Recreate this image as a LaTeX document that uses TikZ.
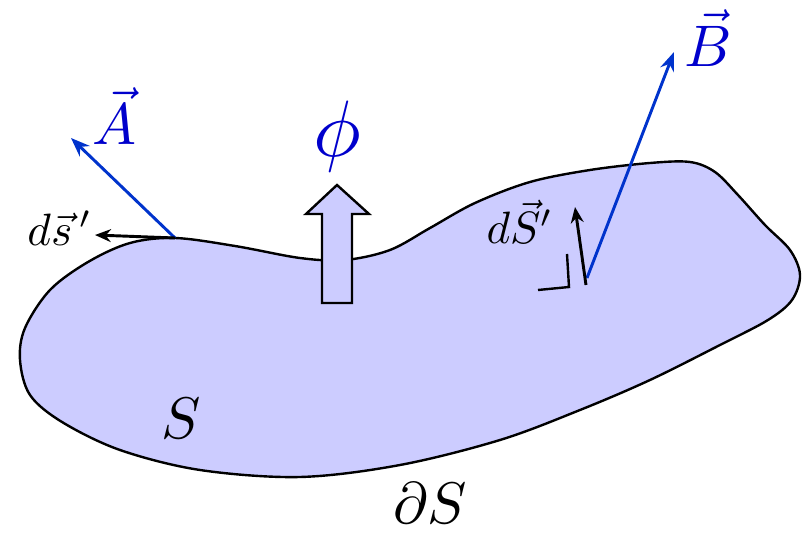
\documentclass[tikz,border=0pt]{standalone}
\usetikzlibrary{arrows.meta, positioning}
\definecolor{surffill}{RGB}{204, 204, 255}
\definecolor{vecblue}{RGB}{0, 51, 204}
\definecolor{labblue}{RGB}{0, 0, 204}

\begin{document}
\begin{tikzpicture}[x=0.75pt, y=-0.75pt,
        vec/.style={-{Stealth[length=5mm, width=3.8mm]}, line width=2.2pt, vecblue},
        elem/.style={-{Stealth[length=4.2mm, width=3.4mm]}, line width=2.2pt, black},
        lab/.style={scale=4.4, text=labblue, inner sep=0pt},
        sml/.style={scale=3.4, inner sep=0pt},
        big/.style={scale=4.4, inner sep=0pt}
      ]
        \useasboundingbox (0,0) rectangle (808,534);
        % Flaeche S
        \draw[line width=1.8pt, fill=surffill] plot[smooth cycle, tension=0.55] coordinates {
            (175,238) (235,246) (300,258) (345,260) (390,250) (430,228) (475,203)
            (530,182) (590,170) (650,163) (690,162) (715,172) (738,195) (765,225)
            (790,250) (800,275) (792,300) (768,320) (720,345) (650,380) (580,410)
            (500,440) (400,465) (300,477) (200,470) (120,450) (62,422) (30,395)
            (20,360) (25,328) (50,290) (88,262) (130,243)};
        % Fluss-Pfeil
        \draw[line width=1.8pt, fill=surffill]
            (322,303) -- (322,214) -- (306,214) -- (337,185) -- (369,214)
            -- (352,214) -- (352,303) -- cycle;
        \node[scale=6, inner sep=0pt, text=labblue] (phi) at (337,137) {$\phi$};
        % Vektoren am Rand
        \coordinate (p0) at (175,238);
        \coordinate (atip) at (71,138);
        \coordinate (stip) at (95,235);
        \draw[vec] (p0) -- (atip);
        \draw[elem] (p0) -- (stip);
        \node[lab] (alab) at (114,116) {$\vec{A}$};
        \node[sml] (slab) at (60,228) {$d\vec{s}\,'$};
        % Flaechenelement
        \coordinate (q0) at (587,278);
        \coordinate (btip) at (674,52);
        \coordinate (n0) at (586,285);
        \coordinate (ntip) at (575,207);
        \draw[vec] (q0) -- (btip);
        \draw[elem] (n0) -- (ntip);
        \draw[line width=1.8pt] (538,290) -- (569,287) -- (567,254);
        \node[lab] (blab) at (708,38) {$\vec{B}$};
        \node[sml] (dslab) at (520,222) {$d\vec{S}'$};
        % Bezeichnungen
        \node[big] (surf) at (181,418) {$S$};
        \node[big] (rand) at (430,503) {$\partial S$};
      \end{tikzpicture}
\end{document}
